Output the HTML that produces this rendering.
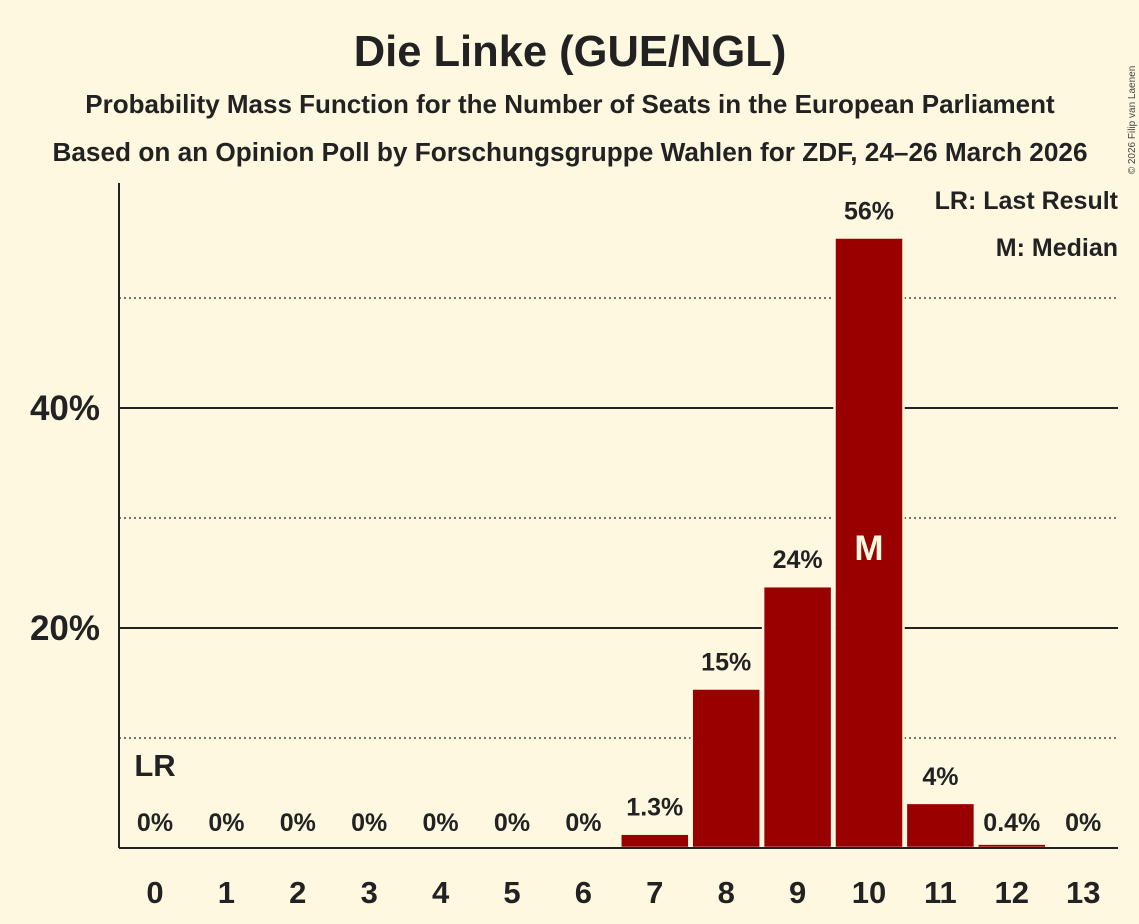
<!DOCTYPE html>
<html><head><meta charset="utf-8"><style>
body{margin:0;background:#fff8e1;}
svg{display:block;font-family:"Liberation Sans",sans-serif;font-weight:bold;}
</style></head><body>
<svg id="chart" width="1139" height="924" viewBox="0 0 1139 924">
<rect width="1139" height="924" fill="#fff8e1"/>
<text x="570" y="66" text-anchor="middle" font-size="43.5" fill="#222">Die Linke (GUE/NGL)</text>
<text x="570" y="113" text-anchor="middle" font-size="26" fill="#222">Probability Mass Function for the Number of Seats in the European Parliament</text>
<text x="570" y="161" text-anchor="middle" font-size="26.2" fill="#222">Based on an Opinion Poll by Forschungsgruppe Wahlen for ZDF, 24–26 March 2026</text>
<text x="1135" y="120" font-size="10" font-weight="normal" fill="#444" transform="rotate(-90 1135 120)" text-anchor="middle">© 2026 Filip van Laenen</text>
<g id="grid"></g>
<g id="bars"></g>
<g id="labels"></g>
<line x1="119" y1="183" x2="119" y2="848" stroke="#222" stroke-width="2"/>
<line x1="119" y1="848" x2="1118" y2="848" stroke="#222" stroke-width="2"/>
<text x="1118" y="209" text-anchor="end" font-size="25" fill="#222">LR: Last Result</text>
<text x="1118" y="256" text-anchor="end" font-size="25" fill="#222">M: Median</text>
</svg>
<script>
const categories=[0,1,2,3,4,5,6,7,8,9,10,11,12,13];
const values=[0,0,0,0,0,0,0,1.3,14.5,23.8,55.5,4.1,0.4,0];
const valueLabels=["0%","0%","0%","0%","0%","0%","0%","1.3%","15%","24%","56%","4%","0.4%","0%"];
const solidTicks=[20,40];
const dottedTicks=[10,30,50];
const medianSeat=10;
const lastResultSeat=0;
const NS="http://www.w3.org/2000/svg";
const y0=848,pxPer=11;
function yScale(v){return y0-v*pxPer;}
function xScale(c){return 155+c*71.4;}
function mk(t,a,p){const e=document.createElementNS(NS,t);for(const k in a)e.setAttribute(k,a[k]);p.appendChild(e);return e;}
const grid=document.getElementById('grid'),bars=document.getElementById('bars'),labels=document.getElementById('labels');
dottedTicks.forEach(t=>{const l=mk('line',{x1:119,x2:1118,y1:yScale(t),y2:yScale(t),stroke:'#222','stroke-width':1.2,'stroke-dasharray':'2,3'},grid);

});
solidTicks.forEach(t=>{const l=mk('line',{x1:119,x2:1118,y1:yScale(t),y2:yScale(t),stroke:'#222','stroke-width':2},grid);


const tx=mk('text',{x:100,y:yScale(t)+12,'text-anchor':'end','font-size':35,fill:'#222'},labels);tx.textContent=t+'%';

});
categories.forEach((c,i)=>{const x=xScale(c),v=values[i];
if(v>0){const r=mk('rect',{x:x-34.5,y:yScale(v),width:69,height:y0-yScale(v),fill:'#990000',stroke:'#fff8e1','stroke-width':2.5},bars);

}
const vl=mk('text',{x:x,y:yScale(v)-18,'text-anchor':'middle','font-size':25,fill:'#222'},labels);vl.textContent=valueLabels[i];
if(v<1)vl.setAttribute('y',831);


const xl=mk('text',{x:x,y:903,'text-anchor':'middle','font-size':31,fill:'#222'},labels);xl.textContent=c;


if(c===medianSeat){const m=mk('text',{x:x,y:560,'text-anchor':'middle','font-size':35,fill:'#fff8e1'},labels);m.textContent='M';

}
if(c===lastResultSeat){const lr=mk('text',{x:x,y:776,'text-anchor':'middle','font-size':31,fill:'#222'},labels);lr.textContent='LR';

}
});
</script>
</body></html>
